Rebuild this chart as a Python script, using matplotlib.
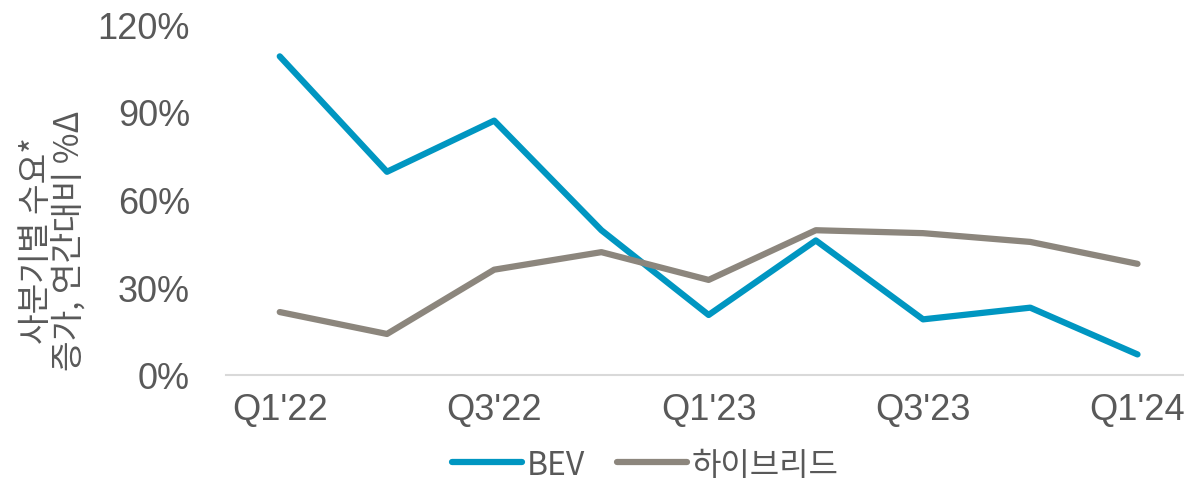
import numpy as np
import matplotlib.pyplot as plt
from matplotlib.ticker import FuncFormatter

# 분기별 데이터 (그림에서 읽은 값, %)
quarters = ["Q1'22", "Q2'22", "Q3'22", "Q4'22", "Q1'23", "Q2'23", "Q3'23", "Q4'23", "Q1'24"]
bev = [109, 69.5, 87, 49.5, 20.5, 46, 19, 23, 7]
hybrid = [21.5, 14, 36, 42, 32.5, 49.5, 48.5, 45.5, 38]

tick_labels = ["Q1'22", "Q3'22", "Q1'23", "Q3'23", "Q1'24"]
y_ticks = [0, 30, 60, 90, 120]

BEV_COLOR = '#0096C1'
HYB_COLOR = '#8C867D'
TEXT_COLOR = '#595959'

plt.rcParams['font.family'] = ['Liberation Sans', 'Noto Sans CJK KR', 'DejaVu Sans']

fig = plt.figure(figsize=(11.84, 4.85), dpi=100)
ax = fig.add_axes([0.191, 0.225, 0.815, 0.723])

x = np.arange(len(quarters))
ax.plot(x, bev, color=BEV_COLOR, linewidth=4.5, solid_capstyle='round', label='BEV')
ax.plot(x, hybrid, color=HYB_COLOR, linewidth=4.5, solid_capstyle='round', label='하이브리드')

ax.set_xlim(-0.5, len(quarters) - 0.5)
ax.set_ylim(0, 120)
ax.set_yticks(y_ticks)
ax.yaxis.set_major_formatter(FuncFormatter(lambda v, p: f'{int(v)}%'))
ax.set_xticks(x[::2])
ax.set_xticklabels(tick_labels)

for s in ['top', 'right', 'left']:
    ax.spines[s].set_visible(False)
ax.spines['bottom'].set_color('#D9D9D9')
ax.spines['bottom'].set_linewidth(1.5)
ax.tick_params(axis='both', length=0, labelsize=26, colors=TEXT_COLOR)
ax.tick_params(axis='x', pad=12)
ax.tick_params(axis='y', pad=26)

ax.set_ylabel('사분기별 수요*\n증가, 연간대비 %Δ', fontsize=24, color=TEXT_COLOR,
              family=['Noto Sans CJK KR', 'DejaVu Sans'], linespacing=0.9)
ax.yaxis.set_label_coords(-0.145, 0.385)

leg = fig.legend(loc='center', bbox_to_anchor=(0.545, 0.04), ncol=2, frameon=False,
                 prop={'family': ['Noto Sans CJK KR', 'DejaVu Sans'], 'size': 23},
                 handlelength=2.2, handletextpad=0.15, columnspacing=1.0)
for t in leg.get_texts():
    t.set_color(TEXT_COLOR)

plt.savefig('out.png', dpi=100)
plt.close()
